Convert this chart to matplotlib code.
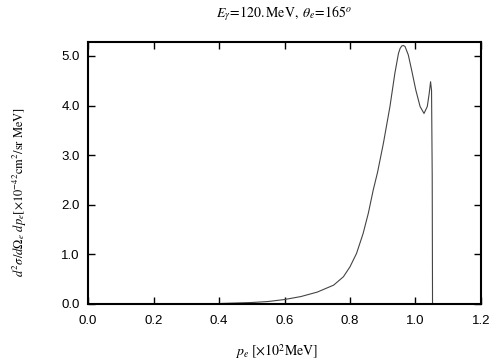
import numpy as np
import matplotlib
matplotlib.use('Agg')
import matplotlib.pyplot as plt

# p_e [x10^2 MeV] et section efficace
pe = [0.40, 0.45, 0.50, 0.55, 0.60, 0.65, 0.70, 0.75, 0.78, 0.80, 0.82, 0.84,
      0.856, 0.871, 0.884, 0.902, 0.922, 0.937, 0.948, 0.953, 0.958, 0.963,
      0.968, 0.978, 0.988, 1.001, 1.014, 1.026, 1.036, 1.042, 1.046, 1.049,
      1.051, 1.052]
sig = [0.01, 0.02, 0.03, 0.05, 0.09, 0.15, 0.24, 0.38, 0.55, 0.75, 1.02, 1.42,
       1.83, 2.30, 2.65, 3.24, 3.98, 4.65, 5.05, 5.15, 5.20, 5.21,
       5.19, 5.02, 4.72, 4.31, 3.98, 3.84, 3.98, 4.25, 4.48, 4.30,
       2.60, 0.00]

xticks = [0.0, 0.2, 0.4, 0.6, 0.8, 1.0, 1.2]
yticks = [0.0, 1.0, 2.0, 3.0, 4.0, 5.0]

plt.rcParams['mathtext.fontset'] = 'stix'
plt.rcParams['font.family'] = ['Liberation Sans', 'DejaVu Sans']

fig = plt.figure(figsize=(5.04, 3.6), dpi=100)
ax = fig.add_axes([88/504, 1-304/360, (481-88)/504, (304-42)/360])

ax.plot(pe, sig, color='#444444', lw=0.8)

ax.set_xlim(0, 1.2)
ax.set_ylim(0, 5.28)
ax.set_xticks(xticks)
ax.set_yticks(yticks)
ax.set_xticklabels(['%.1f' % v for v in xticks])
ax.set_yticklabels(['%.1f' % v for v in yticks])
ax.tick_params(direction='in', top=True, right=True, length=5, width=1,
               labelsize=9.5)
ax.tick_params(axis='x', pad=8)
ax.tick_params(axis='y', pad=6)
for s in ax.spines.values():
    s.set_linewidth(1.5)

fig.text(284/504, 1-14/360, r'$E_\gamma\!=\!120.{\rm MeV},\ \theta_e\!=\!165^o$',
         ha='center', va='center', fontsize=10, family='Liberation Serif')
fig.text(20/504, 1-192/360,
         r'$d^2\sigma/d\Omega_e\ dp_e[\times10^{-42}{\rm cm}^2/{\rm sr\ MeV}]$',
         ha='center', va='center', rotation=90, fontsize=9)
fig.text(277/504, 1-352/360, r'$p_e\ [\times10^2{\rm MeV}]$',
         ha='center', va='center', fontsize=10)

fig.savefig('out.png', dpi=100)
